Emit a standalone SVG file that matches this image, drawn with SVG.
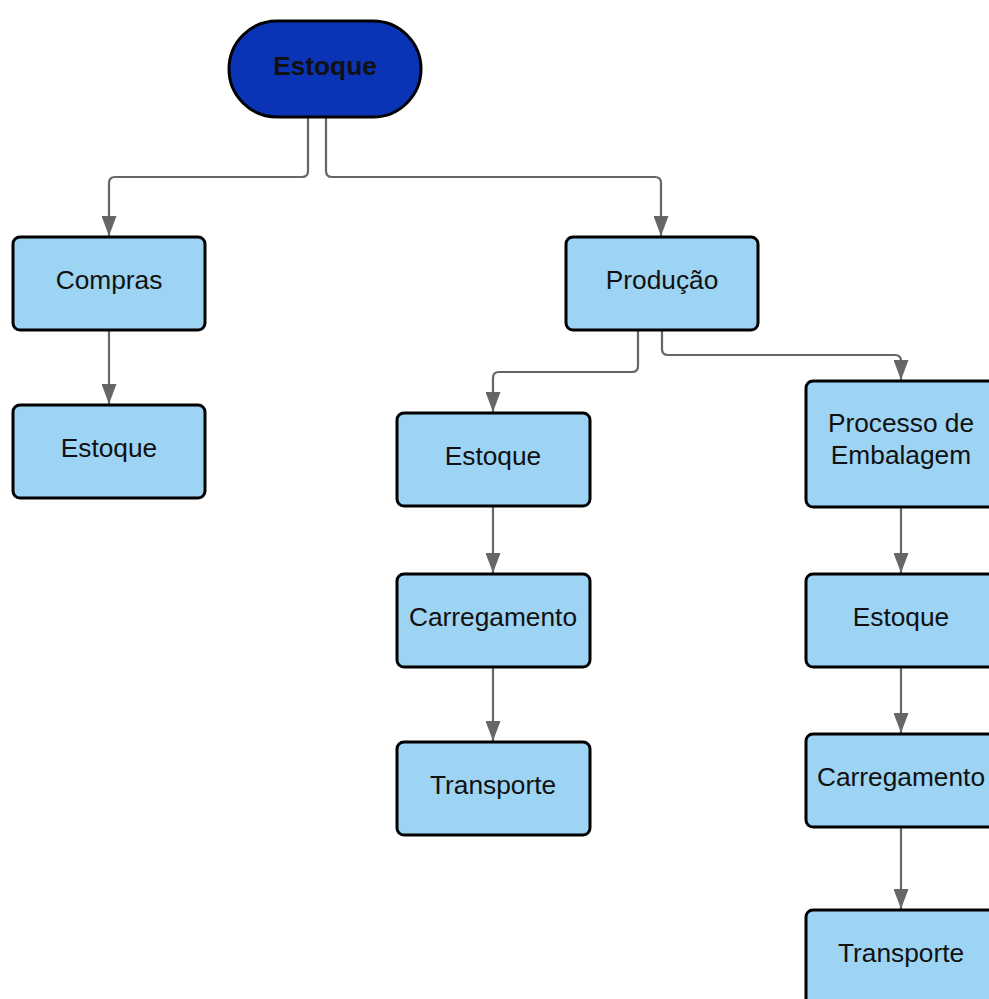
<svg xmlns="http://www.w3.org/2000/svg" width="989" height="999" viewBox="0 0 989 999">
  <style>
    .box { fill: #9dd3f3; stroke: #000; stroke-width: 3; }
    .root { fill: #0a33b5; stroke: #000; stroke-width: 3; }
    .lbl { font-family: "Liberation Sans", Arial, sans-serif; font-size: 26.3px; fill: #111; text-anchor: middle; }
    .bold { font-weight: bold; }
    .link { fill: none; stroke: #666; stroke-width: 2.2; marker-end: url(#arrow); }
  </style>
  <defs>
    <marker id="arrow" markerUnits="userSpaceOnUse" markerWidth="20" markerHeight="15" viewBox="0 0 20 15" refX="20" refY="7.5" orient="auto">
      <path d="M0,0 L20,7.5 L0,15 z" fill="#666"/>
    </marker>
  </defs>
  <rect width="989" height="999" fill="#fff"/>

  <g id="connectors">
    <path class="link" d="M308 118 V171 Q308 177 302 177 H115 Q109 177 109 183 V236"/>
    <path class="link" d="M326 118 V171 Q326 177 332 177 H655 Q661 177 661 183 V236"/>
    <path class="link" d="M109 331 V404"/>
    <path class="link" d="M638 331 V366 Q638 372 632 372 H499 Q493 372 493 378 V412"/>
    <path class="link" d="M662 331 V349 Q662 355 668 355 H895 Q901 355 901 361 V380"/>
    <path class="link" d="M493 507 V573"/>
    <path class="link" d="M493 668 V741"/>
    <path class="link" d="M901 508 V573"/>
    <path class="link" d="M901 668 V733"/>
    <path class="link" d="M901 828 V909"/>
  </g>

  <g id="n-root">
    <rect class="root" x="229" y="21" width="192" height="96" rx="48"/>
    <text class="lbl bold" x="325" y="75">Estoque</text>
  </g>
  <g id="n-compras">
    <rect class="box" x="13" y="237" width="192" height="93" rx="7"/>
    <text class="lbl" x="109" y="289">Compras</text>
  </g>
  <g id="n-estoque-compras">
    <rect class="box" x="13" y="405" width="192" height="93" rx="7"/>
    <text class="lbl" x="109" y="457">Estoque</text>
  </g>
  <g id="n-producao">
    <rect class="box" x="566" y="237" width="192" height="93" rx="7"/>
    <text class="lbl" x="662" y="289">Produção</text>
  </g>
  <g id="n-estoque-prod">
    <rect class="box" x="397" y="413" width="193" height="93" rx="7"/>
    <text class="lbl" x="493" y="465">Estoque</text>
  </g>
  <g id="n-carregamento-prod">
    <rect class="box" x="397" y="574" width="193" height="93" rx="7"/>
    <text class="lbl" x="493" y="626">Carregamento</text>
  </g>
  <g id="n-transporte-prod">
    <rect class="box" x="397" y="742" width="193" height="93" rx="7"/>
    <text class="lbl" x="493" y="794">Transporte</text>
  </g>
  <g id="n-embalagem">
    <rect class="box" x="806" y="381" width="193" height="126" rx="7"/>
    <text class="lbl" x="901" y="432">Processo de</text>
    <text class="lbl" x="901" y="464">Embalagem</text>
  </g>
  <g id="n-estoque-emb">
    <rect class="box" x="806" y="574" width="193" height="93" rx="7"/>
    <text class="lbl" x="901" y="626">Estoque</text>
  </g>
  <g id="n-carregamento-emb">
    <rect class="box" x="806" y="734" width="193" height="93" rx="7"/>
    <text class="lbl" x="901" y="786">Carregamento</text>
  </g>
  <g id="n-transporte-emb">
    <rect class="box" x="806" y="910" width="193" height="100" rx="7"/>
    <text class="lbl" x="901" y="962">Transporte</text>
  </g>
</svg>
